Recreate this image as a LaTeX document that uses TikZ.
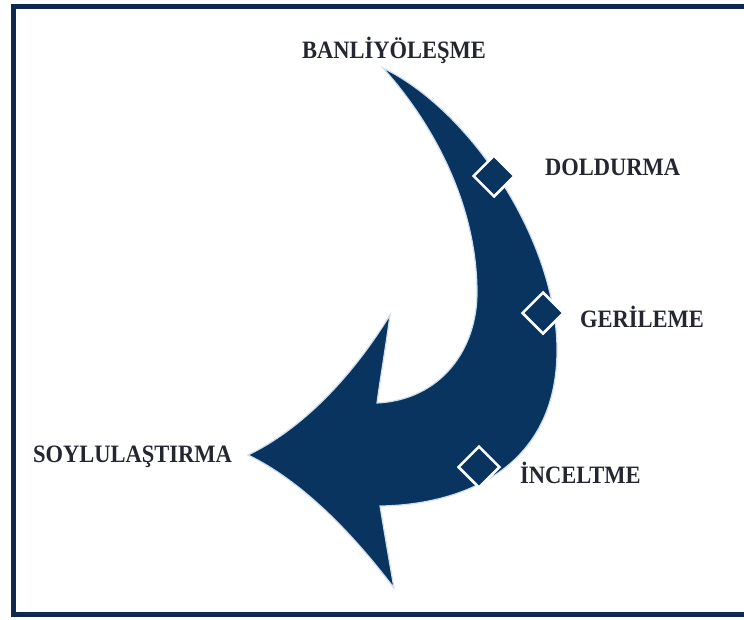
\documentclass[tikz,border=0pt]{standalone}
\usepackage{fontspec}
\setmainfont{Liberation Serif}
\newfontfamily\stagefont[FakeStretch=0.9]{Liberation Serif}
\usepackage{tikz}
\usetikzlibrary{calc, positioning, shapes.geometric}
\definecolor{navy}{RGB}{8,52,95}
\definecolor{framenavy}{RGB}{14,40,78}
\definecolor{glow}{RGB}{205,222,240}
\definecolor{textgray}{RGB}{36,38,48}
\tikzset{
  stagemark/.style={diamond, draw=white, fill=navy, line width=2.5pt, minimum size=42pt, inner sep=0pt},
  stagetext/.style={anchor=base west, inner sep=0pt, text=textgray, font=\stagefont\fontsize{25}{28}\selectfont\bfseries}
}

\begin{document}
\begin{tikzpicture}[x=1pt, y=-1pt]
                  \useasboundingbox (0,0) rectangle (744,619);
                  \coordinate (Top) at (383,68);
                  \coordinate (Bulge) at (557,350);
                  \coordinate (Heel) at (380,506);
                  \coordinate (BarbLow) at (394,588);
                  \coordinate (Tip) at (248,455);
                  \coordinate (BarbUp) at (390,315);
                  \coordinate (Notch) at (377,403);
                  \coordinate (Inner) at (477,290);
                  \draw[framenavy, line width=5pt] (750,6.5) -- (13.5,6.5) -- (13.5,614) -- (750,614);
                  \fill[navy, draw=glow, line width=1.2pt]
                    (Top) .. controls (470,110) and (557,240) .. (Bulge)
                          .. controls (557,470) and (460,505) .. (Heel)
                          .. controls (384,530) and (389,560) .. (BarbLow)
                          .. controls (350,530) and (300,480) .. (Tip)
                          .. controls (300,430) and (350,380) .. (BarbUp)
                          .. controls (386,345) and (380,380) .. (Notch)
                          .. controls (440,400) and (478,350) .. (Inner)
                          .. controls (476,200) and (430,120) .. (Top) -- cycle;
                  \node[stagemark] (D1) at (494,176) {};
                  \node[stagemark] (D2) at (543,313) {};
                  \node[stagemark] (D3) at (479,467) {};
                  \node[stagetext] (L0) at (302,58) {BANLİYÖLEŞME};
                  \node[stagetext] (L1) at (545,175) {DOLDURMA};
                  \node[stagetext] (L2) at (580,327) {GERİLEME};
                  \node[stagetext] (L3) at (520,483) {İNCELTME};
                  \node[stagetext] (L4) at (33,462) {SOYLULAŞTIRMA};
               \end{tikzpicture}
\end{document}
